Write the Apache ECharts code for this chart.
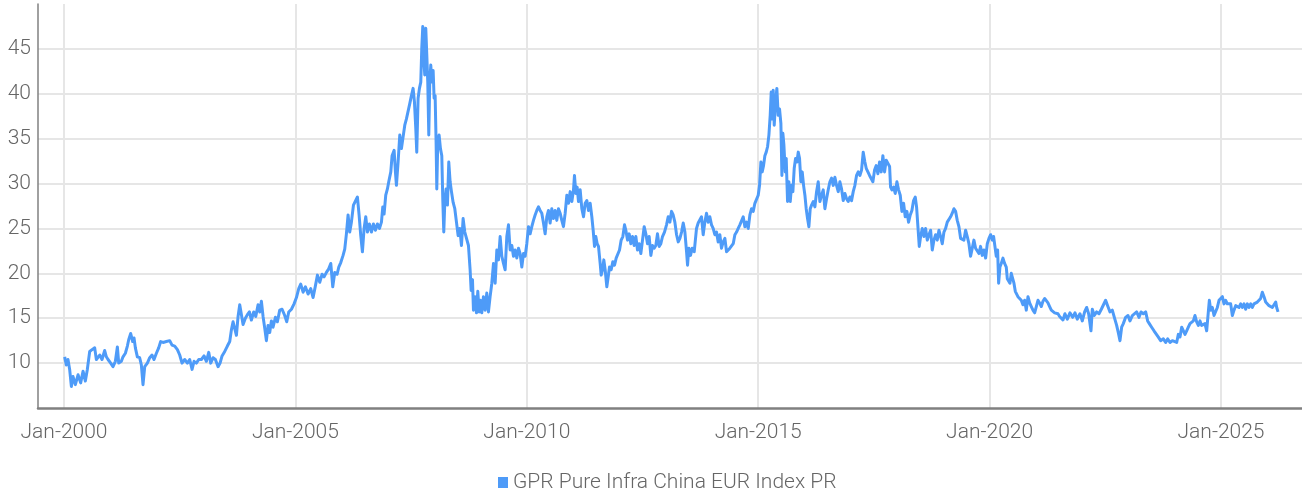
<!DOCTYPE html>
<html>
<head>
<meta charset="utf-8">
<script src="https://cdn.jsdelivr.net/npm/echarts@6/dist/echarts.min.js"></script>
<style>
html,body{margin:0;padding:0;background:#fff;}
#chart{width:1302px;height:493px;}
</style>
</head>
<body>
<div id="chart"></div>
<script>
const seriesName = 'GPR Pure Infra China EUR Index PR';
const tickYears = [2000, 2005, 2010, 2015, 2020, 2025];

// decimal-year positions of the points
const years = [
2000.014,2000.050,2000.086,2000.122,2000.159,2000.195,2000.245,2000.303,2000.360,2000.411,2000.461,2000.504,2000.555,2000.605,2000.663,2000.699,2000.735,2000.771,2000.821,2000.879,2000.915,2000.951,
2001.009,2001.059,2001.110,2001.153,2001.182,2001.239,2001.275,2001.326,2001.369,2001.398,2001.441,2001.484,2001.513,2001.542,2001.585,2001.635,2001.671,2001.707,2001.744,2001.801,2001.852,2001.902,2001.945,2001.996,
2002.046,2002.089,2002.140,2002.212,2002.284,2002.334,2002.392,2002.450,2002.500,2002.550,2002.608,2002.666,2002.716,2002.767,2002.810,2002.860,2002.911,2002.968,
2003.026,2003.076,2003.127,2003.170,2003.220,2003.271,2003.329,2003.372,2003.415,2003.473,2003.530,2003.581,2003.617,2003.653,2003.689,2003.725,2003.761,2003.797,2003.833,2003.869,2003.919,2003.963,
2004.006,2004.049,2004.099,2004.143,2004.193,2004.229,2004.265,2004.301,2004.337,2004.373,2004.409,2004.445,2004.481,2004.517,2004.568,2004.611,2004.661,2004.712,2004.769,2004.813,2004.856,2004.914,2004.971,
2005.022,2005.072,2005.115,2005.166,2005.216,2005.274,2005.331,2005.382,2005.432,2005.476,2005.526,2005.576,2005.620,2005.670,2005.720,2005.764,2005.807,2005.850,2005.901,2005.937,2005.980,
2006.030,2006.066,2006.102,2006.138,2006.174,2006.210,2006.254,2006.297,2006.340,2006.376,2006.412,2006.448,2006.484,2006.520,2006.556,2006.599,2006.643,2006.686,2006.729,2006.772,2006.816,2006.859,2006.888,2006.916,2006.952,2006.988,
2007.017,2007.061,2007.089,2007.133,2007.161,2007.183,2007.219,2007.255,2007.291,2007.327,2007.363,2007.399,2007.435,2007.471,2007.507,2007.543,2007.572,2007.601,2007.622,2007.651,2007.680,2007.709,2007.730,2007.752,2007.774,2007.795,2007.817,2007.839,2007.860,2007.882,2007.903,2007.925,2007.947,2007.976,2007.997,
2008.019,2008.040,2008.055,2008.076,2008.105,2008.134,2008.163,2008.184,2008.206,2008.228,2008.256,2008.285,2008.314,2008.343,2008.372,2008.408,2008.444,2008.480,2008.516,2008.552,2008.588,2008.624,2008.660,2008.703,2008.739,2008.775,2008.797,2008.826,2008.847,2008.883,2008.912,2008.941,2008.970,2008.999,
2009.027,2009.063,2009.099,2009.135,2009.171,2009.207,2009.244,2009.280,2009.316,2009.352,2009.388,2009.424,2009.460,2009.496,2009.532,2009.568,2009.604,2009.640,2009.676,2009.712,2009.748,2009.784,2009.820,2009.856,2009.892,2009.928,2009.964,
2010.000,2010.036,2010.072,2010.108,2010.144,2010.180,2010.216,2010.252,2010.288,2010.324,2010.360,2010.396,2010.432,2010.468,2010.504,2010.540,2010.576,2010.612,2010.648,2010.684,2010.720,2010.756,2010.792,2010.829,2010.865,2010.901,2010.937,2010.973,
2011.009,2011.030,2011.059,2011.088,2011.117,2011.153,2011.189,2011.225,2011.261,2011.297,2011.333,2011.369,2011.405,2011.434,2011.463,2011.491,2011.520,2011.549,2011.585,2011.607,2011.636,2011.664,2011.693,2011.729,2011.758,2011.787,2011.823,2011.859,2011.895,2011.931,2011.967,
2012.003,2012.039,2012.075,2012.111,2012.140,2012.176,2012.212,2012.248,2012.284,2012.320,2012.356,2012.392,2012.428,2012.464,2012.500,2012.536,2012.572,2012.608,2012.644,2012.680,2012.716,2012.752,2012.788,2012.824,2012.860,2012.896,2012.932,2012.975,
2013.019,2013.055,2013.091,2013.127,2013.163,2013.199,2013.236,2013.272,2013.308,2013.344,2013.380,2013.416,2013.452,2013.473,2013.501,2013.537,2013.573,2013.617,2013.646,2013.667,2013.703,2013.739,2013.775,2013.811,2013.847,2013.883,2013.919,2013.955,2013.991,
2014.027,2014.063,2014.099,2014.135,2014.171,2014.207,2014.243,2014.280,2014.316,2014.352,2014.388,2014.424,2014.460,2014.496,2014.532,2014.568,2014.604,2014.640,2014.676,2014.712,2014.748,2014.784,2014.820,2014.856,2014.892,2014.928,2014.964,
2015.000,2015.029,2015.058,2015.086,2015.115,2015.144,2015.173,2015.202,2015.231,2015.259,2015.281,2015.303,2015.324,2015.346,2015.375,2015.403,2015.432,2015.461,2015.490,2015.512,2015.533,2015.555,2015.584,2015.605,2015.634,2015.663,2015.692,2015.720,2015.749,2015.778,2015.807,2015.836,2015.865,2015.893,2015.922,2015.951,2015.980,
2016.009,2016.037,2016.066,2016.095,2016.124,2016.153,2016.189,2016.225,2016.261,2016.297,2016.333,2016.369,2016.405,2016.441,2016.477,2016.513,2016.549,2016.585,2016.621,2016.657,2016.693,2016.729,2016.765,2016.801,2016.837,2016.873,2016.909,2016.945,2016.981,
2017.017,2017.053,2017.089,2017.125,2017.161,2017.197,2017.233,2017.269,2017.305,2017.334,2017.370,2017.406,2017.442,2017.478,2017.514,2017.550,2017.586,2017.622,2017.658,2017.694,2017.730,2017.766,2017.802,2017.839,2017.860,2017.889,2017.925,2017.961,2017.997,
2018.033,2018.069,2018.105,2018.141,2018.177,2018.213,2018.249,2018.285,2018.321,2018.357,2018.393,2018.422,2018.451,2018.480,2018.509,2018.545,2018.581,2018.617,2018.653,2018.689,2018.725,2018.761,2018.797,2018.833,2018.869,2018.905,2018.941,2018.977,
2019.013,2019.049,2019.085,2019.121,2019.157,2019.193,2019.229,2019.265,2019.301,2019.337,2019.373,2019.409,2019.445,2019.481,2019.517,2019.553,2019.589,2019.625,2019.661,2019.697,2019.733,2019.769,2019.805,2019.841,2019.877,2019.914,2019.950,2019.986,
2020.022,2020.058,2020.086,2020.115,2020.144,2020.173,2020.195,2020.223,2020.252,2020.288,2020.324,2020.360,2020.382,2020.411,2020.439,2020.468,2020.497,2020.526,2020.555,2020.584,2020.612,2020.648,2020.684,2020.720,2020.757,2020.793,2020.829,2020.865,2020.901,2020.937,2020.973,
2021.009,2021.045,2021.081,2021.117,2021.153,2021.189,2021.225,2021.261,2021.297,2021.333,2021.369,2021.405,2021.441,2021.477,2021.513,2021.549,2021.585,2021.628,2021.679,2021.736,2021.794,2021.844,2021.895,2021.952,
2022.003,2022.053,2022.097,2022.140,2022.190,2022.219,2022.262,2022.313,2022.363,2022.414,2022.457,2022.507,2022.550,2022.601,2022.651,2022.695,2022.745,2022.781,2022.817,2022.853,2022.889,2022.939,2022.990,
2023.033,2023.084,2023.127,2023.177,2023.228,2023.271,2023.322,2023.372,2023.415,2023.451,2023.501,2023.552,2023.595,2023.646,2023.696,2023.754,2023.804,2023.847,2023.898,2023.948,2023.991,
2024.042,2024.078,2024.114,2024.150,2024.186,2024.222,2024.258,2024.294,2024.330,2024.366,2024.402,2024.438,2024.474,2024.510,2024.546,2024.582,2024.618,2024.654,2024.690,2024.726,2024.748,2024.777,2024.813,2024.849,2024.885,2024.921,2024.957,2024.993,
2025.029,2025.065,2025.101,2025.137,2025.173,2025.209,2025.245,2025.281,2025.317,2025.353,2025.389,2025.425,2025.461,2025.497,2025.533,2025.569,2025.605,2025.641,2025.677,2025.713,2025.749,2025.785,2025.821,2025.857,2025.893,2025.929,2025.965,
2026.001,2026.037,2026.073,2026.109,2026.145,2026.182,2026.203,2026.232
];

// index level at each point
const values = [
10.7,9.8,10.4,9.3,7.4,8.5,7.6,8.7,7.8,9.1,8.0,9.3,11.3,11.5,11.7,10.4,10.2,10.9,10.4,11.4,10.7,10.4,
10.0,9.6,10.2,11.8,10.0,10.2,10.7,11.1,11.9,12.6,13.3,12.4,12.8,11.7,10.7,10.6,9.8,7.6,9.6,10.0,10.6,10.9,10.4,11.1,
11.7,12.4,12.3,12.4,12.5,12.0,11.9,11.5,10.9,10.0,10.4,10.0,10.4,9.3,10.2,10.0,10.4,10.4,
10.8,10.2,11.2,10.0,10.6,10.4,9.6,10.0,10.8,11.3,11.9,12.4,13.7,14.6,14.8,13.1,15.2,16.5,16.7,14.3,15.0,15.4,
15.7,14.8,15.7,15.2,16.5,15.7,16.9,15.2,13.9,12.5,14.2,13.4,14.7,14.0,15.1,14.6,15.9,16.0,15.3,14.6,15.7,16.0,16.6,
17.3,18.3,18.8,17.9,18.5,17.7,18.3,17.3,18.6,19.8,19.0,19.9,19.6,20.1,20.5,21.1,18.5,20.1,19.9,20.7,21.2,
22.0,22.7,24.4,26.5,24.6,25.7,27.6,27.4,28.5,26.5,24.2,22.4,25.0,26.3,24.6,25.5,24.6,25.5,24.8,25.5,25.0,25.7,27.4,26.6,28.7,29.4,
30.2,31.3,33.1,33.7,31.3,29.8,32.4,35.4,33.9,35.2,36.5,37.2,37.0,38.9,39.8,40.6,39.1,36.1,33.5,39.5,40.6,41.3,45.0,47.5,43.9,42.1,47.3,44.3,41.3,35.4,41.3,43.2,41.3,42.6,39.5,
39.8,34.6,29.4,34.6,35.4,33.9,33.1,28.3,24.6,27.9,29.4,27.6,32.4,30.2,29.1,27.9,27.2,25.7,24.2,25.0,23.1,26.1,24.6,24.8,23.1,20.4,18.1,19.3,15.9,17.4,15.6,18.0,15.7,17.0,
15.6,17.4,15.9,17.8,15.7,17.4,18.9,21.1,18.9,22.6,21.5,24.1,21.9,21.1,20.4,24.1,25.4,22.6,23.1,21.9,22.6,21.7,22.8,22.2,20.7,22.2,21.9,
23.3,25.2,24.4,25.2,25.9,26.5,27.0,27.4,27.0,26.7,25.6,24.4,26.3,27.0,25.6,27.2,26.1,27.0,25.9,27.2,26.7,25.9,25.2,26.7,28.7,27.8,29.1,28.0,
29.3,30.9,28.9,29.6,28.0,29.3,27.2,26.3,27.8,28.1,27.0,27.8,26.3,24.8,23.0,24.1,23.3,23.0,21.1,19.8,20.4,21.5,20.4,18.5,19.6,20.7,20.4,21.3,20.9,21.7,21.9,
22.6,23.7,24.1,25.4,24.8,23.7,24.4,23.3,24.1,23.1,24.1,22.6,23.3,22.2,23.7,25.2,24.4,23.3,24.1,22.0,23.1,22.8,23.1,24.4,23.0,23.3,24.1,24.6,
25.4,26.3,25.7,26.9,26.5,25.7,24.3,23.5,23.9,24.6,25.6,24.6,22.4,20.9,22.8,22.0,22.8,22.4,22.4,25.0,25.6,25.4,26.3,24.3,25.7,26.7,25.7,26.3,25.4,
25.0,24.3,24.6,23.5,24.3,22.8,23.5,23.9,22.4,22.2,22.8,23.0,23.3,24.3,24.6,25.0,25.4,25.6,26.3,25.2,25.7,25.0,26.5,27.2,26.9,27.8,28.0,
28.7,29.8,32.4,31.3,32.0,33.1,33.5,34.1,35.4,37.6,40.2,37.2,40.4,36.5,39.1,40.6,37.6,38.3,36.7,30.9,35.6,34.3,31.3,32.8,28.0,30.2,28.0,29.8,29.1,31.7,32.8,32.4,33.5,32.8,30.2,31.3,29.8,
28.7,27.2,26.1,25.2,27.2,27.6,28.0,27.4,29.1,30.2,28.0,28.7,29.3,27.2,28.3,29.3,30.2,30.6,29.8,30.7,29.8,29.1,30.2,29.4,28.1,28.9,28.3,28.0,28.5,
28.1,29.1,29.8,30.9,31.3,30.9,31.5,33.5,32.4,31.7,31.3,30.9,31.1,30.2,31.5,32.0,31.1,32.4,31.3,33.1,31.3,32.6,32.8,31.9,29.6,29.3,29.6,28.9,30.2,
29.3,28.7,26.9,27.8,26.3,26.9,25.7,26.5,27.0,28.1,28.5,27.4,25.2,23.0,24.1,25.0,24.1,25.0,23.7,24.3,24.8,22.6,23.7,24.3,23.7,24.8,24.1,23.3,
24.6,25.0,25.7,25.9,26.3,26.7,27.2,26.9,25.9,25.2,23.9,24.1,23.7,24.8,24.1,23.3,21.9,22.8,23.7,22.8,23.0,22.2,23.0,22.0,22.6,21.7,23.3,23.9,
24.3,23.7,24.1,23.0,21.9,22.6,18.9,20.7,21.1,21.7,21.1,20.7,19.4,19.6,18.9,20.0,20.2,18.9,18.0,18.1,17.4,17.6,17.0,16.5,17.0,15.9,17.4,16.7,16.3,15.9,15.6,
16.3,17.0,16.7,16.3,16.9,17.2,17.0,16.7,16.3,15.9,15.7,15.6,15.6,15.5,15.2,15.2,14.8,15.5,14.9,15.6,15.1,15.6,14.9,15.5,
14.7,15.7,16.2,15.5,13.6,16.0,15.3,15.7,15.5,16.0,15.9,17.0,16.4,15.7,15.9,15.1,14.2,13.4,12.5,14.0,14.4,15.1,15.3,
14.7,15.3,15.1,15.7,15.1,15.7,15.5,15.7,14.7,14.4,14.0,13.6,13.4,12.9,12.5,12.7,12.3,12.7,12.3,12.5,12.7,
12.3,13.2,12.9,14.0,13.8,13.2,13.6,14.0,14.4,14.2,14.7,15.3,14.6,14.2,14.7,14.2,14.0,14.4,13.6,15.7,17.0,15.9,16.2,15.3,15.5,16.2,17.0,16.8,
17.4,16.6,17.0,16.6,16.4,16.6,15.3,15.9,16.4,16.6,16.2,16.6,16.2,16.6,16.0,16.6,16.2,16.6,16.2,16.6,16.4,16.8,17.0,17.2,17.9,17.4,16.8,
16.6,16.4,16.6,16.2,16.4,16.8,16.2,15.7
];

const points = years.map((y, i) => [y, values[i]]);
const labelFont = { fontFamily: 'Roboto', fontSize: 21, fontWeight: 300, color: '#666' };

const chart = echarts.init(document.getElementById('chart'), null, { renderer: 'canvas' });
chart.setOption({
  animation: false,
  backgroundColor: '#fff',
  grid: { left: 38, right: 0, top: 4, bottom: 85, containLabel: false },
  legend: {
    data: [seriesName],
    left: 493, top: 467,
    icon: 'rect', itemWidth: 10, itemHeight: 11, itemGap: 10,
    textStyle: Object.assign({}, labelFont, { padding: [0, 0, 0, 0] })
  },
  xAxis: {
    type: 'value',
    min: 1999.438, max: 2026.75,
    axisLine: { show: true, onZero: false, lineStyle: { color: '#808080', width: 2.5 } },
    axisTick: { show: false, customValues: tickYears },
    axisLabel: Object.assign({}, labelFont, {
      customValues: tickYears, margin: 14,
      formatter: v => 'Jan-' + Math.round(v)
    }),
    splitLine: { show: true, lineStyle: { color: '#e6e6e6', width: 2 } }
  },
  yAxis: {
    type: 'value',
    min: 5, max: 50, interval: 5,
    axisLine: { show: true, lineStyle: { color: '#808080', width: 1.5 } },
    axisTick: { show: false },
    axisLabel: Object.assign({}, labelFont, {
      margin: 7,
      formatter: v => (v <= 5 || v >= 50) ? '' : String(v)
    }),
    splitLine: { show: true, showMinLine: false, showMaxLine: false, lineStyle: { color: '#e6e6e6', width: 2 } }
  },
  series: [{
    name: seriesName,
    type: 'line',
    data: points,
    showSymbol: false,
    symbol: 'none',
    sampling: false,
    itemStyle: { color: '#4e9bf8' },
    lineStyle: { color: '#4e9bf8', width: 3, join: 'round' }
  }]
});
</script>
</body>
</html>
